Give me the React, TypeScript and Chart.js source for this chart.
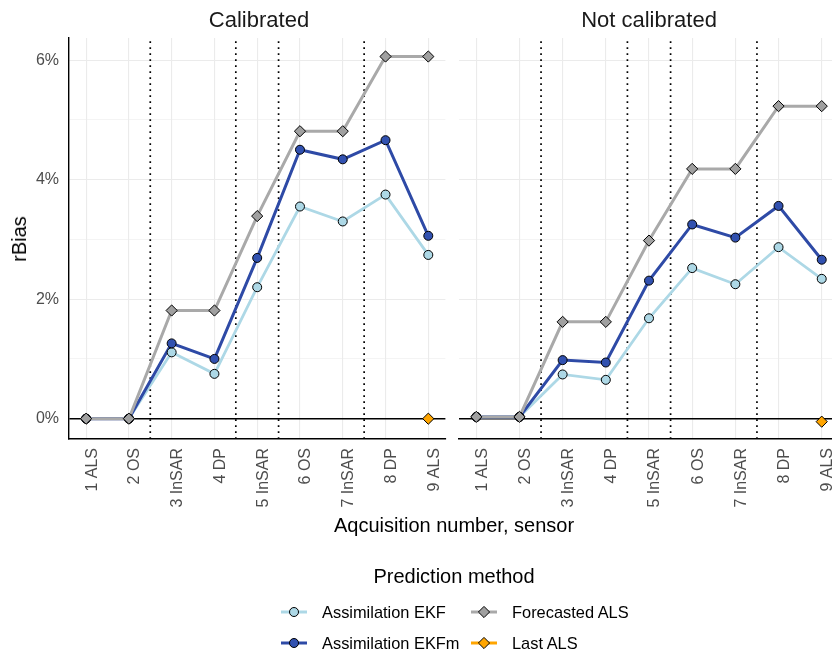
import React, { useEffect, useRef } from 'react';
import { Chart, registerables } from 'chart.js';

Chart.register(...registerables);

// ---------- data ----------
const acquisitions = [1, 2, 3, 4, 5, 6, 7, 8, 9];
const tickLabels = ['1 ALS', '2 OS', '3 InSAR', '4 DP', '5 InSAR', '6 OS', '7 InSAR', '8 DP', '9 ALS'];
const yTicks = [0, 1, 2, 3, 4, 5, 6];
const separators = [2.5, 4.5, 5.5, 7.5];
const panelTitles = ['Calibrated', 'Not calibrated'];
const seriesNames = ['Assimilation EKF', 'Assimilation EKFm', 'Forecasted ALS', 'Last ALS'];

// Calibrated panel (rBias, %)
const calEKF = [0, 0, 1.11, 0.75, 2.2, 3.55, 3.3, 3.75, 2.74];
const calEKFm = [0, 0, 1.26, 1.0, 2.69, 4.5, 4.34, 4.66, 3.06];
const calForecast = [0, 0, 1.81, 1.81, 3.39, 4.81, 4.81, 6.06, 6.06];
const calLast = [null, null, null, null, null, null, null, null, 0];

// Not calibrated panel (rBias, %)
const ncEKF = [0.03, 0.03, 0.74, 0.65, 1.68, 2.52, 2.25, 2.87, 2.34];
const ncEKFm = [0.03, 0.03, 0.98, 0.94, 2.31, 3.25, 3.03, 3.56, 2.66];
const ncForecast = [0.03, 0.03, 1.62, 1.62, 2.98, 4.18, 4.18, 5.23, 5.23];
const ncLast = [null, null, null, null, null, null, null, null, -0.05];

// ---------- styles ----------
const X_MIN = 0.6;
const X_MAX = 9.4;
const Y_MIN = -0.34;
const Y_MAX = 6.37;
const FONT = "'Liberation Sans', Arial, Helvetica, sans-serif";
const lineColors = ['#ADD8E6', '#2E4AA6', '#A9A9A9', '#FFA500'];
const fillColors = ['#ADD8E6', '#3151B0', '#A0A0A0', '#FFA500'];
const pointStyles = ['circle', 'circle', 'rectRot', 'rectRot'];
const pointRadii = [4.5, 4.5, 5.6, 5.6];
const lineWidths = [2.8, 3, 3, 3];

const CANVAS_H = 530;
const PANEL_TOP = 38;
const PANEL_BOTTOM = 439;

type Vals = (number | null)[];

function buildConfig(isLeft: boolean, series: Vals[]): any {
  const toPts = (vals: Vals) => vals.map((v, i) => ({ x: acquisitions[i], y: v }));
  const datasets: any[] = [];
  separators.forEach((s) => {
    datasets.push({
      data: [{ x: s, y: Y_MIN }, { x: s, y: Y_MAX }],
      borderColor: '#000',
      borderWidth: 1.7,
      borderDash: [1.7, 4.3],
      pointRadius: 0,
      order: 30,
    });
  });
  series.forEach((vals, k) => {
    datasets.push({
      label: seriesNames[k],
      data: toPts(vals),
      borderColor: lineColors[k],
      borderWidth: lineWidths[k],
      pointRadius: 0,
      tension: 0,
      fill: false,
      order: 25 - k,
    });
  });
  series.forEach((vals, k) => {
    datasets.push({
      label: seriesNames[k] + ' points',
      data: toPts(vals),
      showLine: false,
      pointStyle: pointStyles[k],
      pointRadius: pointRadii[k],
      pointBackgroundColor: fillColors[k],
      pointBorderColor: '#000',
      pointBorderWidth: 1,
      order: 15 - k,
    });
  });

  const tickFont = { family: FONT, size: 16 };
  return {
    type: 'line',
    data: { datasets },
    options: {
      responsive: false,
      animation: false,
      events: [],
      layout: {
        padding: isLeft
          ? { left: 0, right: 3, top: PANEL_TOP, bottom: 0 }
          : { left: 7, right: 13, top: PANEL_TOP, bottom: 0 },
      },
      plugins: { legend: { display: false }, tooltip: { enabled: false } },
      scales: {
        x: {
          type: 'linear',
          min: X_MIN,
          max: X_MAX,
          bounds: 'data',
          afterBuildTicks: (s: any) => {
            s.ticks = acquisitions.map((v) => ({ value: v }));
          },
          afterFit: (s: any) => {
            s.height = CANVAS_H - PANEL_BOTTOM;
            s.paddingLeft = 0;
            s.paddingRight = 0;
          },
          grid: { color: '#EBEBEB', lineWidth: 1.1, drawTicks: false },
          border: { display: true, color: '#000', width: 1.4 },
          ticks: {
            autoSkip: false,
            minRotation: 90,
            maxRotation: 90,
            padding: 9,
            labelOffset: 6,
            color: '#4D4D4D',
            font: tickFont,
            callback: (v: number) => {
              const i = acquisitions.indexOf(v);
              return i >= 0 ? tickLabels[i] : '';
            },
          },
        },
        y: {
          type: 'linear',
          min: Y_MIN,
          max: Y_MAX,
          bounds: 'data',
          afterBuildTicks: (s: any) => {
            s.ticks = yTicks.map((v) => ({ value: v }));
          },
          afterFit: (s: any) => {
            s.width = isLeft ? 69 : 0;
            s.paddingTop = 0;
            s.paddingBottom = 0;
          },
          grid: {
            drawTicks: false,
            color: (ctx: any) => (ctx.tick && ctx.tick.value === 0 ? '#000' : '#EBEBEB'),
            lineWidth: (ctx: any) => {
              const v = ctx.tick ? ctx.tick.value : 1;
              if (v === 0) return 1.4;
              return v % 2 === 0 ? 1.1 : 0.55;
            },
          },
          border: { display: isLeft, color: '#000', width: 1.4 },
          ticks: {
            display: isLeft,
            padding: 10,
            color: '#4D4D4D',
            font: tickFont,
            callback: (v: number) => (v % 2 === 0 ? v + '%' : ''),
          },
        },
      },
    },
  };
}

function Panel({ isLeft, series, left, width }: { isLeft: boolean; series: Vals[]; left: number; width: number }) {
  const ref = useRef<HTMLCanvasElement | null>(null);
  useEffect(() => {
    if (!ref.current) return;
    const chart = new Chart(ref.current, buildConfig(isLeft, series));
    return () => chart.destroy();
  }, []);
  return (
    <canvas
      ref={ref}
      width={width}
      height={CANVAS_H}
      style={{ position: 'absolute', left, top: 0, width, height: CANVAS_H }}
    />
  );
}

function LegendKey({ k }: { k: number }) {
  const cx = 13;
  const cy = 10;
  const r = pointRadii[k];
  return (
    <svg width={26} height={20} style={{ display: 'block' }}>
      <line x1={0} y1={cy} x2={26} y2={cy} stroke={lineColors[k]} strokeWidth={3} />
      {pointStyles[k] === 'circle' ? (
        <circle cx={cx} cy={cy} r={r} fill={fillColors[k]} stroke="#000" strokeWidth={1} />
      ) : (
        <polygon
          points={`${cx},${cy - r} ${cx + r},${cy} ${cx},${cy + r} ${cx - r},${cy}`}
          fill={fillColors[k]}
          stroke="#000"
          strokeWidth={1}
        />
      )}
    </svg>
  );
}

const textBase: React.CSSProperties = {
  position: 'absolute',
  fontFamily: FONT,
  whiteSpace: 'nowrap',
};

export default function App() {
  const legendPos = [
    { k: 0, keyX: 281, textX: 322, y: 612 },
    { k: 1, keyX: 281, textX: 322, y: 643 },
    { k: 2, keyX: 471, textX: 512, y: 612 },
    { k: 3, keyX: 471, textX: 512, y: 643 },
  ];
  return (
    <div
      style={{
        position: 'absolute',
        left: 0,
        top: 0,
        width: 832,
        height: 656,
        overflow: 'hidden',
        background: '#fff',
      }}
    >
      <Panel isLeft={true} series={[calEKF, calEKFm, calForecast, calLast]} left={0} width={452} />
      <Panel isLeft={false} series={[ncEKF, ncEKFm, ncForecast, ncLast]} left={452} width={400} />

      <div style={{ ...textBase, left: 259, top: 9, fontSize: 22, lineHeight: '22px', color: '#1A1A1A', transform: 'translateX(-50%)' }}>
        {panelTitles[0]}
      </div>
      <div style={{ ...textBase, left: 649, top: 9, fontSize: 22, lineHeight: '22px', color: '#1A1A1A', transform: 'translateX(-50%)' }}>
        {panelTitles[1]}
      </div>

      <div
        style={{
          ...textBase,
          left: 18.5,
          top: 238.5,
          fontSize: 20,
          lineHeight: '20px',
          color: '#000',
          transform: 'translate(-50%, -50%) rotate(-90deg)',
        }}
      >
        rBias
      </div>

      <div style={{ ...textBase, left: 454, top: 515, fontSize: 20, lineHeight: '20px', color: '#000', transform: 'translateX(-50%)' }}>
        Aqcuisition number, sensor
      </div>

      <div style={{ ...textBase, left: 454, top: 566, fontSize: 20, lineHeight: '20px', color: '#000', transform: 'translateX(-50%)' }}>
        Prediction method
      </div>

      {legendPos.map((p) => (
        <React.Fragment key={p.k}>
          <div style={{ position: 'absolute', left: p.keyX, top: p.y - 10 }}>
            <LegendKey k={p.k} />
          </div>
          <div style={{ ...textBase, left: p.textX, top: p.y - 8, fontSize: 16.4, lineHeight: '16.4px', color: '#000' }}>
            {seriesNames[p.k]}
          </div>
        </React.Fragment>
      ))}
    </div>
  );
}
